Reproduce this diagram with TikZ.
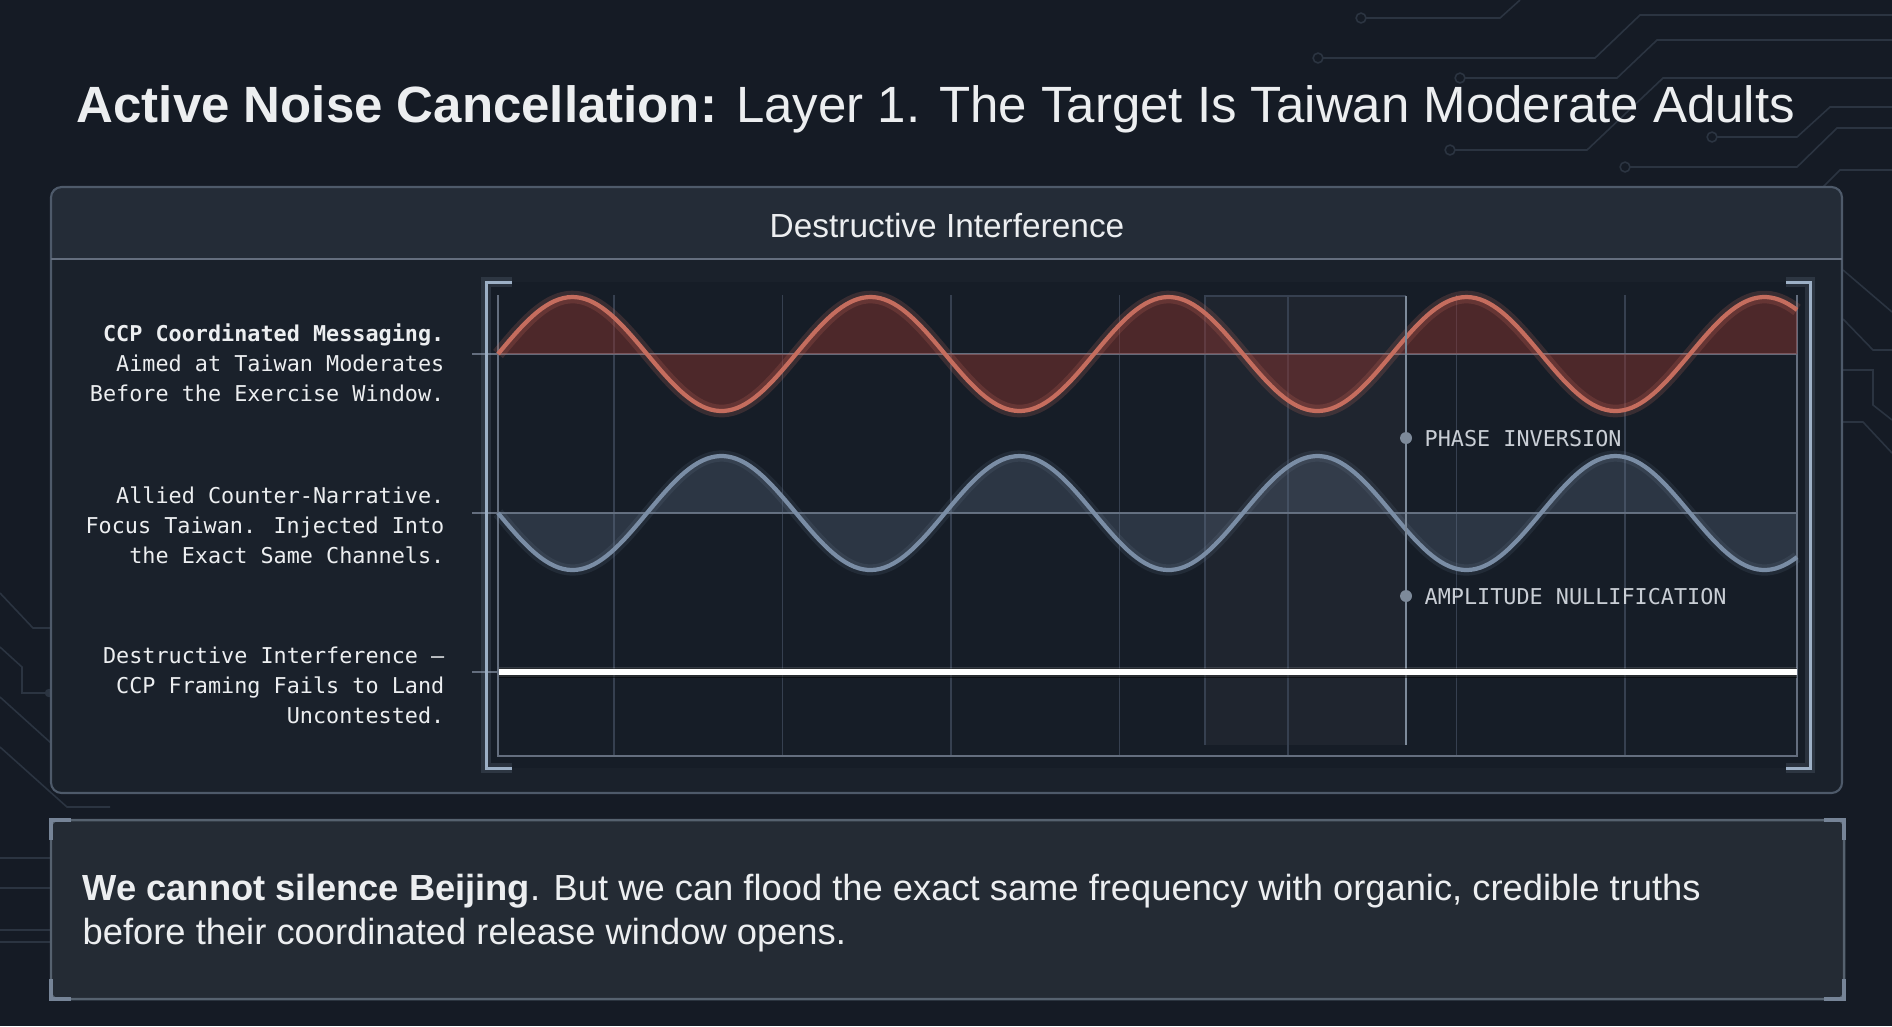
\documentclass[tikz,border=0pt]{standalone}
\usepackage{fontspec}
\setmainfont{Liberation Sans}
\newfontfamily\monof{DejaVu Sans Mono}
\definecolor{bgc}{HTML}{151B25}
\definecolor{panelc}{HTML}{1A212B}
\definecolor{headc}{HTML}{242C37}
\definecolor{borderc}{HTML}{4E5A6A}
\definecolor{chartc}{HTML}{161D27}
\definecolor{gridc}{HTML}{364050}
\definecolor{basec}{HTML}{646E7E}
\definecolor{redl}{HTML}{C56D5E}
\definecolor{redf}{HTML}{92362F}
\definecolor{bluel}{HTML}{7A8DA5}
\definecolor{bluef}{HTML}{6A7D94}
\definecolor{brackc}{HTML}{9DB0C6}
\definecolor{txtc}{HTML}{ECEEF0}
\definecolor{lblc}{HTML}{C9CED5}
\definecolor{tracec}{HTML}{2B3441}
\definecolor{boxc}{HTML}{242B34}
\definecolor{boxb}{HTML}{56626F}
\definecolor{accentc}{HTML}{768497}
\definecolor{phasec}{HTML}{7D8A9A}
\tikzset{
  trace/.style={draw=tracec, line width=0.45pt},
  tracedot/.style={draw=tracec, line width=0.45pt, fill=bgc},
  gridline/.style={draw=gridc, line width=0.45pt},
  baseline/.style={draw=basec, line width=0.55pt},
  bracket/.style={draw=brackc, line width=0.85pt},
  bracketglow/.style={draw=brackc, line width=2.6pt, opacity=0.15},
  monolbl/.style={inner sep=0pt, text=txtc, font=\monof\fontsize{6.2pt}{8.5pt}\selectfont},
  phaselbl/.style={inner sep=0pt, text=lblc, font=\monof\fontsize{6.2pt}{8.5pt}\selectfont},
  dotmark/.style={fill=phasec},
  accent/.style={draw=accentc, line width=1.1pt},
}
\begin{document}
\begin{tikzpicture}[x=0.01cm,y=-0.01cm]
\useasboundingbox (0,0) rectangle (1892,1026);
\fill[bgc] (0,0) rectangle (1892,1026);

% circuit traces, top right
\draw[trace] (1366,18) -- (1500,18) -- (1520,0);
\draw[tracedot] (1361,18) circle[radius=1.4pt];
\draw[trace] (1323,58) -- (1595,58) -- (1640,15) -- (1892,15);
\draw[tracedot] (1318,58) circle[radius=1.4pt];
\draw[trace] (1465,78) -- (1617,78) -- (1657,40) -- (1892,40);
\draw[tracedot] (1460,78) circle[radius=1.4pt];
\draw[trace] (1455,150) -- (1587,150) -- (1663,78) -- (1892,78);
\draw[tracedot] (1450,150) circle[radius=1.4pt];
\draw[trace] (1717,137) -- (1797,137) -- (1830,107) -- (1892,107);
\draw[tracedot] (1712,137) circle[radius=1.4pt];
\draw[trace] (1630,167) -- (1797,167) -- (1837,128) -- (1892,128);
\draw[tracedot] (1625,167) circle[radius=1.4pt];
\draw[trace] (1823,187) -- (1840,170) -- (1892,170);
% right side
\draw[trace] (1843,270) -- (1892,312);
\draw[trace] (1843,319) -- (1873,350) -- (1892,350);
\draw[trace] (1843,370) -- (1873,370) -- (1873,405) -- (1892,420);
\draw[trace] (1843,422) -- (1863,422) -- (1892,453);
% left side
\draw[trace] (0,593) -- (33,628) -- (51,628);
\draw[trace] (0,647) -- (22,667) -- (22,693) -- (47,693);
\fill[tracec] (49,693) circle[radius=1.2pt];
\draw[trace] (0,697) -- (51,743);
\draw[trace] (0,747) -- (67,807) -- (110,807);
\draw[trace] (0,858) -- (51,858);
\draw[trace] (0,888) -- (51,888);
\draw[trace] (0,930) -- (51,930);
\draw[trace] (0,942) -- (51,942);

% main panel
\fill[panelc, rounded corners=3pt] (51,187) rectangle (1842,793);
\fill[headc, rounded corners=3pt] (51,187) rectangle (1842,259);
\fill[headc] (51,240) rectangle (1842,259);
\draw[borderc, line width=0.6pt, rounded corners=3pt] (51,187) rectangle (1842,793);
\draw[draw=basec, line width=0.6pt] (51,259) -- (1842,259);
\node[anchor=base, inner sep=0pt, text=txtc, font=\fontsize{9.5pt}{11pt}\selectfont] (hdr) at (947,237) {Destructive Interference};

% chart interior
\fill[chartc] (487,282) rectangle (1810,768);
% shaded window
\fill[white, opacity=0.04] (1205,296) rectangle (1406,745);
\draw[gridc, line width=0.45pt] (1205,745) -- (1205,296) -- (1406,296);
% grid
\foreach \gx in {614,782.5,951,1119.5,1288,1456.5,1625}
  \draw[gridline] (\gx,295) -- (\gx,756);
\draw[gridline, draw=basec] (498,295) -- (498,756) -- (1797,756) -- (1797,295);
% baselines
\draw[baseline] (472,354) -- (1797,354);
\draw[baseline] (472,513) -- (1797,513);
\draw[baseline] (472,672) -- (498,672);

% red wave
\fill[redf, opacity=0.45] (498,354) -- plot[domain=498:1797, samples=300] (\x,{354-57*sin(1.2081*(\x-498))}) -- (1797,354) -- cycle;
\draw[redl, line width=3.6pt, opacity=0.2] plot[domain=498:1797, samples=300] (\x,{354-57*sin(1.2081*(\x-498))});
\draw[redl, line width=1.2pt] plot[domain=498:1797, samples=300] (\x,{354-57*sin(1.2081*(\x-498))});
% blue wave
\fill[bluef, opacity=0.27] (498,513) -- plot[domain=498:1797, samples=300] (\x,{513+57*sin(1.2081*(\x-498))}) -- (1797,513) -- cycle;
\draw[bluel, line width=3.2pt, opacity=0.13] plot[domain=498:1797, samples=300] (\x,{513+57*sin(1.2081*(\x-498))});
\draw[bluel, line width=1.2pt] plot[domain=498:1797, samples=300] (\x,{513+57*sin(1.2081*(\x-498))});

% phase inversion line
\draw[phasec, line width=0.6pt] (1406,296) -- (1406,745);

% flat line
\draw[black, line width=3pt, opacity=0.5] (499,673) -- (1797,673);
\draw[white, line width=3pt, opacity=0.12] (499,672) -- (1797,672);
\draw[white, line width=1.5pt] (499,672) -- (1797,672);

% brackets
\draw[bracketglow] (512,282) -- (486,282) -- (486,768) -- (512,768);
\draw[bracket] (512,282) -- (486,282) -- (486,768) -- (512,768);
\draw[bracketglow] (1786,282) -- (1810,282) -- (1810,768) -- (1786,768);
\draw[bracket] (1786,282) -- (1810,282) -- (1810,768) -- (1786,768);

% markers
\fill[dotmark] (1406,438) circle[radius=1.7pt];
\fill[dotmark] (1406,596) circle[radius=1.7pt];
\node[phaselbl, anchor=base west] (phase) at (1424,446) {PHASE INVERSION};
\node[phaselbl, anchor=base west] (ampl) at (1424,604) {AMPLITUDE NULLIFICATION};

% left labels
\node[monolbl, anchor=base east] (a1) at (445,341) {\bfseries CCP Coordinated Messaging.};
\node[monolbl, anchor=base east] (a2) at (445,371) {Aimed at Taiwan Moderates};
\node[monolbl, anchor=base east] (a3) at (445,401) {Before the Exercise Window.};
\node[monolbl, anchor=base east] (b1) at (445,503) {Allied Counter-Narrative.};
\node[monolbl, anchor=base east] (b2) at (445,533) {Focus Taiwan. Injected Into};
\node[monolbl, anchor=base east] (b3) at (445,563) {the Exact Same Channels.};
\node[monolbl, anchor=base east] (c1) at (445,663) {Destructive Interference –};
\node[monolbl, anchor=base east] (c2) at (445,693) {CCP Framing Fails to Land};
\node[monolbl, anchor=base east] (c3) at (445,723) {Uncontested.};

% bottom box
\fill[boxc, rounded corners=2pt] (51,820) rectangle (1844,999);
\draw[boxb, line width=0.7pt, rounded corners=2pt] (51,820) rectangle (1844,999);
\draw[accent] (51,840) -- (51,820) -- (71,820);
\draw[accent] (1824,820) -- (1844,820) -- (1844,840);
\draw[accent] (51,979) -- (51,999) -- (71,999);
\draw[accent] (1824,999) -- (1844,999) -- (1844,979);
\node[anchor=base west, inner sep=0pt, text=txtc, font=\fontsize{10.33pt}{12.5pt}\selectfont] (bt1) at (82,900) {\textbf{We cannot silence Beijing}. But we can flood the exact same frequency with organic, credible truths};
\node[anchor=base west, inner sep=0pt, text=txtc, font=\fontsize{10.33pt}{12.5pt}\selectfont] (bt2) at (82,944) {before their coordinated release window opens.};

% title
\node[anchor=base west, inner sep=0pt, text=txtc, font=\fontsize{14.5pt}{17pt}\selectfont] (title) at (76,122) {\textbf{Active Noise Cancellation:} Layer 1. The Target Is Taiwan Moderate Adults};
\end{tikzpicture}
\end{document}
